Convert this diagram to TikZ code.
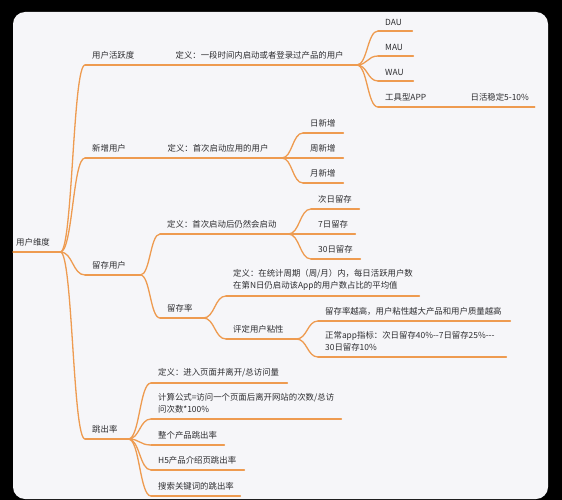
\documentclass[tikz,border=0pt]{standalone}
\usepackage{fontspec}
\newfontfamily\cjk{Noto Sans CJK SC}
\usepackage{xcolor}
\usepackage{tikz}
\usetikzlibrary{calc}

\definecolor{linec}{RGB}{238,155,80}
\definecolor{cardc}{RGB}{246,246,249}
\definecolor{textc}{RGB}{45,45,48}

\begin{document}
\begin{tikzpicture}[x=1pt,y=-1pt,
    wire/.style={draw=linec,line width=1.3pt,line cap=round},
    topic/.style={anchor=south west,inner xsep=7pt,inner ysep=5.5pt,
      text width=#1pt,align=left,text=textc,font=\cjk\fontsize{8.4}{12}\selectfont,
      append after command={(\tikzlastnode.south west) edge[wire] (\tikzlastnode.south east)}},
    branch/.style={wire,to path={.. controls ($(\tikztostart)!0.5!(\tikztotarget|-\tikztostart)$)
      and ($(\tikztotarget)!0.5!(\tikztostart|-\tikztotarget)$) .. (\tikztotarget)}}
  ]
    \useasboundingbox (0,0) rectangle (562,500);
    \fill[black] (0,0) rectangle (562,500);
    \fill[cardc,rounded corners=12pt] (13,12) rectangle (548,499);

    \node[topic=41,inner xsep=3pt] (root) at (13,252) {用户维度};

    % 用户活跃度
    \node[topic=69] (active) at (85,65) {用户活跃度};
    \node[topic=174] (actdef) at (active.south east) {定义：一段时间内启动或者登录过产品的用户};
    \node[topic=20] (dau) at (378,31) {DAU};
    \node[topic=21] (mau) at (378,56) {MAU};
    \node[topic=21] (wau) at (378,81) {WAU};
    \node[topic=71] (tool) at (378,107) {工具型APP};
    \node[topic=57] (toolrate) at (tool.south east) {\mbox{日活稳定5-10\%}};

    % 新增用户
    \node[topic=61] (newuser) at (85,158) {新增用户};
    \node[topic=107] (newdef) at (newuser.south east) {定义：首次启动应用的用户};
    \node[topic=26] (daynew) at (303,133) {日新增};
    \node[topic=26] (weeknew) at (303,158) {周新增};
    \node[topic=26] (monthnew) at (303,183) {月新增};

    % 留存用户
    \node[topic=41] (retain) at (85,275) {留存用户};
    \node[topic=114] (retdef) at (160,234) {定义：首次启动后仍然会启动};
    \node[topic=34] (nextday) at (311,209) {次日留存};
    \node[topic=30] (sevenday) at (311,234) {7日留存};
    \node[topic=35] (thirtyday) at (311,259) {30日留存};
    \node[topic=29] (rate) at (160,318) {留存率};
    \node[topic=179] (ratedef) at (226,296) {定义：在统计周期（周/月）内，每日活跃用户数\\在第N日仍启动该App的用户数占比的平均值};
    \node[topic=56] (sticky) at (226,339) {评定用户粘性};
    \node[topic=178] (stickhigh) at (318,321) {留存率越高，用户粘性越大产品和用户质量越高};
    \node[topic=174] (stickidx) at (318,357) {正常app指标：次日留存40\%-{}-7日留存25\%-{}-{}-\\30日留存10\%};

    % 跳出率
    \node[topic=29] (bounce) at (85,439) {跳出率};
    \node[topic=122] (bouncedef) at (151,383) {定义：进入页面并离开/总访问量};
    \node[topic=176] (formula) at (151,419) {计算公式=访问一个页面后离开网站的次数/总访\\问次数*100\%};
    \node[topic=59] (whole) at (151,445) {整个产品跳出率};
    \node[topic=79] (hfive) at (151,470) {H5产品介绍页跳出率};
    \node[topic=75] (search) at (151,496) {搜索关键词的跳出率};

    \draw[branch] (root.south east) to (active.south west);
    \draw[branch] (root.south east) to (newuser.south west);
    \draw[branch] (root.south east) to (retain.south west);
    \draw[branch] (root.south east) to (bounce.south west);

    \draw[branch] (actdef.south east) to (dau.south west);
    \draw[branch] (actdef.south east) to (mau.south west);
    \draw[branch] (actdef.south east) to (wau.south west);
    \draw[branch] (actdef.south east) to (tool.south west);

    \draw[branch] (newdef.south east) to (daynew.south west);
    \draw[branch] (newdef.south east) to (weeknew.south west);
    \draw[branch] (newdef.south east) to (monthnew.south west);

    \draw[branch] (retain.south east) to (retdef.south west);
    \draw[branch] (retain.south east) to (rate.south west);
    \draw[branch] (retdef.south east) to (nextday.south west);
    \draw[branch] (retdef.south east) to (sevenday.south west);
    \draw[branch] (retdef.south east) to (thirtyday.south west);
    \draw[branch] (rate.south east) to (ratedef.south west);
    \draw[branch] (rate.south east) to (sticky.south west);
    \draw[branch] (sticky.south east) to (stickhigh.south west);
    \draw[branch] (sticky.south east) to (stickidx.south west);

    \draw[branch] (bounce.south east) to (bouncedef.south west);
    \draw[branch] (bounce.south east) to (formula.south west);
    \draw[branch] (bounce.south east) to (whole.south west);
    \draw[branch] (bounce.south east) to (hfive.south west);
    \draw[branch] (bounce.south east) to (search.south west);
  \end{tikzpicture}
\end{document}
